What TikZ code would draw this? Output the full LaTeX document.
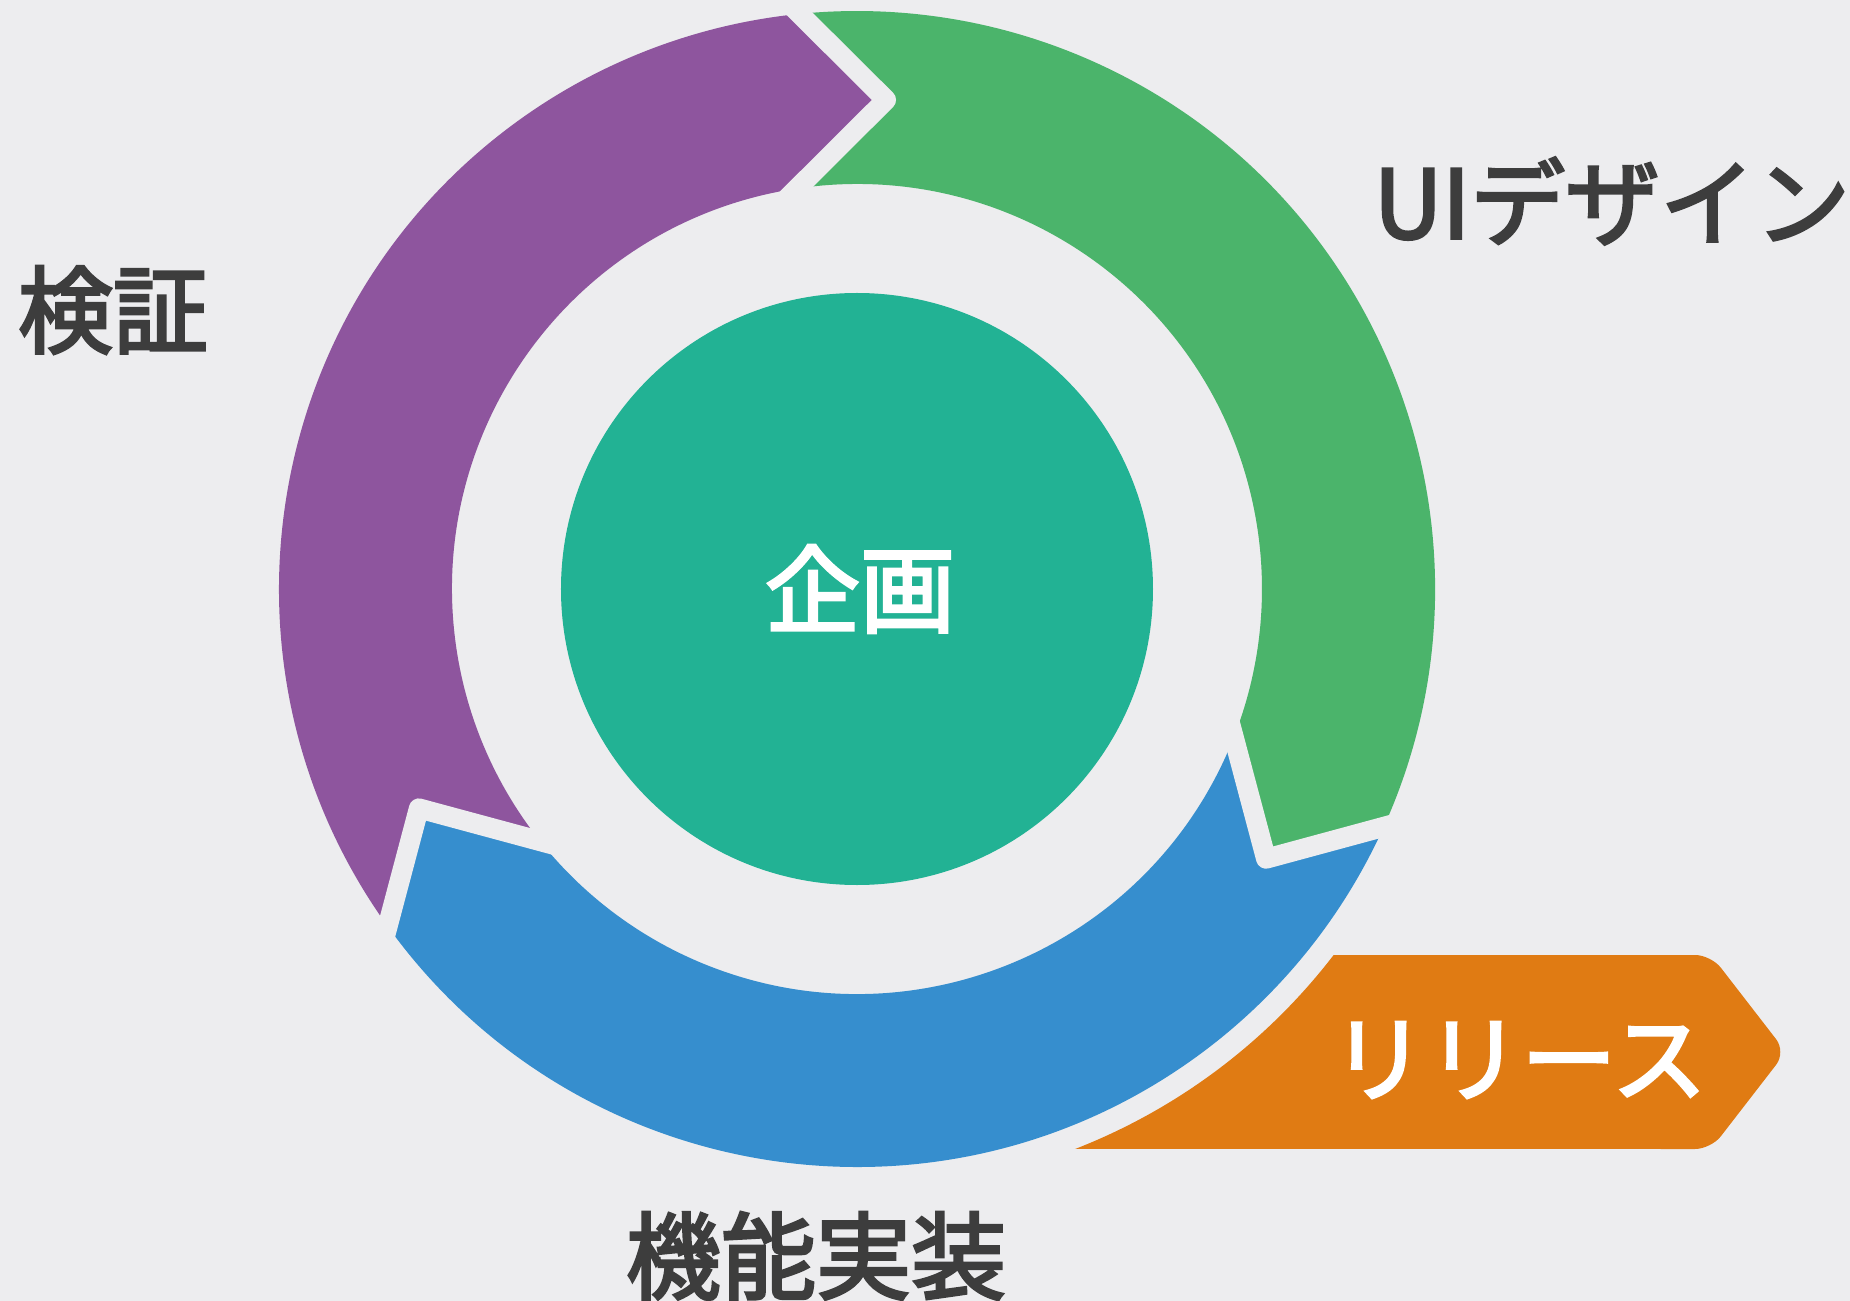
\documentclass[tikz,border=0pt]{standalone}
\usepackage{fontspec}
\newfontfamily\cjk{Noto Sans CJK JP}[FakeBold=3]
\usetikzlibrary{calc}
\definecolor{bg}{HTML}{EDEDEF}
\definecolor{cpurple}{HTML}{8E559E}
\definecolor{cgreen}{HTML}{4BB46B}
\definecolor{cblue}{HTML}{368ECE}
\definecolor{cteal}{HTML}{22B294}
\definecolor{corange}{HTML}{E07B13}
\definecolor{ctext}{HTML}{3D3D3D}
\begin{document}
\begin{tikzpicture}[x=1pt,y=1pt,
  lbl/.style={font=\cjk\fontsize{95}{100}\selectfont, text=ctext, inner sep=0pt},
  gapline/.style={draw=bg, line width=20pt, line join=round, line cap=butt}]
\fill[bg] (-857,-712) rectangle (993,589);
\useasboundingbox (-857,-712) rectangle (993,589);
\def\Ro{578}\def\Ri{405}\def\Rm{490}
\def\ta{86.6}\def\tb{-33.4}\def\tc{-153.4}
% V boundaries: o = outer corner, t = tip, i = inner corner
\coordinate (vAo) at ({\ta+9.1}:\Ro);
\coordinate (vAt) at (\ta:\Rm);
\coordinate (vAi) at ({\ta+11.9}:\Ri);
\coordinate (vBo) at ({\tb+9.1}:\Ro);
\coordinate (vBt) at (\tb:\Rm);
\coordinate (vBi) at ({\tb+11.9}:\Ri);
\coordinate (vCo) at ({\tc+9.1}:\Ro);
\coordinate (vCt) at (\tc:\Rm);
\coordinate (vCi) at ({\tc+11.9}:\Ri);
% purple segment
\fill[cpurple] (vAo) -- (vAt) -- (vAi)
  arc[start angle={\ta+11.9}, end angle={\tc+360+11.9}, radius=\Ri]
  -- (vCt) -- (vCo)
  arc[start angle={\tc+360+9.1}, end angle={\ta+9.1}, radius=\Ro] -- cycle;
% green segment
\fill[cgreen] (vAo) -- (vAt) -- (vAi)
  arc[start angle={\ta+11.9}, end angle={\tb+11.9}, radius=\Ri]
  -- (vBt) -- (vBo)
  arc[start angle={\tb+9.1}, end angle={\ta+9.1}, radius=\Ro] -- cycle;
% blue segment
\fill[cblue] (vBo) -- (vBt) -- (vBi)
  arc[start angle={\tb+11.9}, end angle={\tc+11.9}, radius=\Ri]
  -- (vCt) -- (vCo)
  arc[start angle={\tc+9.1}, end angle={\tb+9.1}, radius=\Ro] -- cycle;
% gaps
\draw[gapline] ($(vAt)!1.5!(vAo)$) -- (vAt) -- ($(vAt)!1.5!(vAi)$);
\draw[gapline] ($(vBt)!1.5!(vBo)$) -- (vBt) -- ($(vBt)!1.5!(vBi)$);
\draw[gapline] ($(vCt)!1.5!(vCo)$) -- (vCt) -- ($(vCt)!1.5!(vCi)$);
% release
\coordinate (rTL) at (-37.52:601);
\coordinate (rBL) at (-68.7:601);
\coordinate (rTR) at (854,-366);
\coordinate (rTip) at (929,-463);
\coordinate (rBR) at (854,-560);
\fill[corange] (rTL) [rounded corners=16pt] -- (rTR) -- (rTip) -- (rBR) [sharp corners] -- (rBL)
  arc[start angle=-68.7, end angle=-37.52, radius=601] -- cycle;
% center
\node[circle, fill=cteal, minimum size=592pt, inner sep=0pt] (plan) at (0,0) {};
\node[lbl, text=white] (plantext) at (3,0) {企画};
% labels
\node[lbl] (verify) at (-744,279) {検証};
\node[lbl] (design) at (755,388) {UIデザイン};
\node[lbl] (impl) at (-41,-667) {機能実装};
\node[lbl, text=white] (release) at (662,-471) {リリース};
\end{tikzpicture}
\end{document}
